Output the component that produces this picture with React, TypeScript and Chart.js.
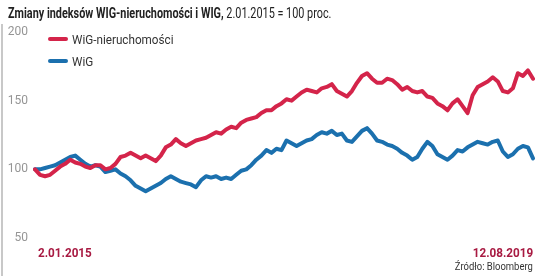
import React, { useEffect, useRef } from "react";
import { Chart, registerables } from "chart.js";

Chart.register(...registerables);

const TITLE_BOLD = "Zmiany indeksów WIG-nieruchomości i WIG,";
const TITLE_REST = " 2.01.2015 = 100 proc.";
const START_LABEL = "2.01.2015";
const END_LABEL = "12.08.2019";
const SOURCE = "Źródło: Bloomberg";
const SERIES_NAMES = ["WiG-nieruchomości", "WiG"];
const Y_TICKS = [50, 100, 150, 200];

const wigNieruchomosci = [
  100, 96, 95, 96, 99, 102, 104, 107, 105, 104,
  102, 101, 103, 103, 100, 101, 104, 109, 110, 112,
  110, 108, 110, 108, 106, 110, 116, 118, 122, 119,
  117, 119, 121, 122, 123, 125, 127, 126, 129, 131,
  130, 134, 136, 137, 138, 141, 143, 143, 146, 148,
  151, 150, 153, 156, 158, 157, 156, 159, 160, 162,
  157, 155, 153, 157, 163, 168, 170, 166, 163, 163,
  166, 165, 162, 158, 160, 157, 156, 157, 153, 152,
  148, 146, 143, 148, 151, 146, 141, 154, 160, 162,
  164, 167, 164, 157, 156, 159, 170, 168, 172, 166,
];

const wig = [
  100, 100, 101, 102, 103, 105, 107, 109, 110, 107,
  104, 102, 103, 102, 98, 99, 100, 97, 95, 92,
  88, 86, 84, 86, 88, 90, 93, 95, 93, 91,
  90, 89, 87, 92, 95, 94, 95, 93, 94, 93,
  96, 99, 100, 103, 107, 110, 114, 112, 115, 114,
  121, 119, 117, 119, 121, 122, 125, 127, 126, 128,
  125, 126, 121, 120, 124, 128, 130, 126, 121, 120,
  118, 117, 115, 112, 110, 107, 109, 115, 120, 117,
  111, 109, 107, 110, 114, 113, 116, 118, 120, 119,
  118, 120, 121, 113, 109, 111, 115, 117, 116, 108,
];

const labels = wig.map((_, i) => String(i));

const RED = "#d4244a";
const BLUE = "#1b70ae";
const DATE_COLOR = "#a81a42";
const FONT = 'Roboto, "Noto Sans", sans-serif';

export default function App() {
  const ref = useRef<HTMLCanvasElement>(null);

  useEffect(() => {
    if (!ref.current) return;
    const chart = new Chart(ref.current, {
      type: "line",
      data: {
        labels,
        datasets: [
          {
            label: SERIES_NAMES[0],
            data: wigNieruchomosci,
            borderColor: RED,
            borderWidth: 4,
            pointRadius: 0,
            tension: 0,
            borderJoinStyle: "round",
            borderCapStyle: "round",
          },
          {
            label: SERIES_NAMES[1],
            data: wig,
            borderColor: BLUE,
            borderWidth: 4,
            pointRadius: 0,
            tension: 0,
            borderJoinStyle: "round",
            borderCapStyle: "round",
          },
        ],
      },
      options: {
        animation: false,
        responsive: false,
        maintainAspectRatio: false,
        layout: { padding: { top: 32, bottom: 38, right: 3, left: 0 } },
        plugins: { legend: { display: false }, title: { display: false }, tooltip: { enabled: false } },
        scales: {
          x: {
            type: "category",
            display: false,
            offset: false,
          },
          y: {
            min: 50,
            max: 200,
            afterFit: (scale: any) => {
              scale.width = 35;
            },
            afterBuildTicks: (scale: any) => {
              scale.ticks = Y_TICKS.map((v) => ({ value: v }));
            },
            grid: { display: false, drawTicks: false },
            border: { display: false },
            ticks: {
              padding: 7,
              color: "#959595",
              font: { family: FONT, size: 12 },
            },
          },
        },
      },
    });
    return () => chart.destroy();
  }, []);

  const squeeze = (s: number): React.CSSProperties => ({
    transform: `scaleX(${s})`,
    transformOrigin: "left center",
    display: "inline-block",
    whiteSpace: "nowrap",
  });

  return (
    <div
      style={{
        position: "absolute",
        left: 0,
        top: 0,
        width: 536,
        height: 276,
        background: "#fff",
        fontFamily: FONT,
        overflow: "hidden",
      }}
    >
      <div
        style={{
          position: "absolute",
          left: 1,
          top: 24,
          width: 2,
          height: 252,
          background: "#c8c8c8",
        }}
      />
      <canvas ref={ref} width={536} height={276} style={{ position: "absolute", left: 0, top: 0 }} />
      <div
        style={{
          position: "absolute",
          left: 8,
          top: 3,
          fontSize: 14,
          color: "#222",
          lineHeight: "20px",
          ...squeeze(0.775),
        }}
      >
        <span style={{ fontWeight: "bold" }}>{TITLE_BOLD}</span>
        <span>{TITLE_REST}</span>
      </div>
      {SERIES_NAMES.map((name, i) => (
        <div
          key={name}
          style={{
            position: "absolute",
            left: 48,
            top: 30 + i * 22,
            height: 18,
            display: "flex",
            alignItems: "center",
            whiteSpace: "nowrap",
            fontSize: 13,
            color: "#333",
          }}
        >
          <span
            style={{
              display: "inline-block",
              width: 20,
              height: 4,
              borderRadius: 2,
              background: i === 0 ? RED : BLUE,
              marginRight: 4,
            }}
          />
          <span style={squeeze(0.9)}>{name}</span>
        </div>
      ))}
      <div
        style={{
          position: "absolute",
          left: 38,
          top: 244,
          fontSize: 13,
          fontWeight: "bold",
          color: DATE_COLOR,
          lineHeight: "18px",
          ...squeeze(0.9),
        }}
      >
        {START_LABEL}
      </div>
      <div
        style={{
          position: "absolute",
          right: 3,
          top: 244,
          fontSize: 13,
          fontWeight: "bold",
          color: DATE_COLOR,
          lineHeight: "18px",
          ...squeeze(0.9),
          transformOrigin: "right center",
        }}
      >
        {END_LABEL}
      </div>
      <div
        style={{
          position: "absolute",
          right: 3,
          top: 259,
          fontSize: 11,
          color: "#333",
          lineHeight: "15px",
          ...squeeze(0.86),
          transformOrigin: "right center",
        }}
      >
        {SOURCE}
      </div>
    </div>
  );
}
